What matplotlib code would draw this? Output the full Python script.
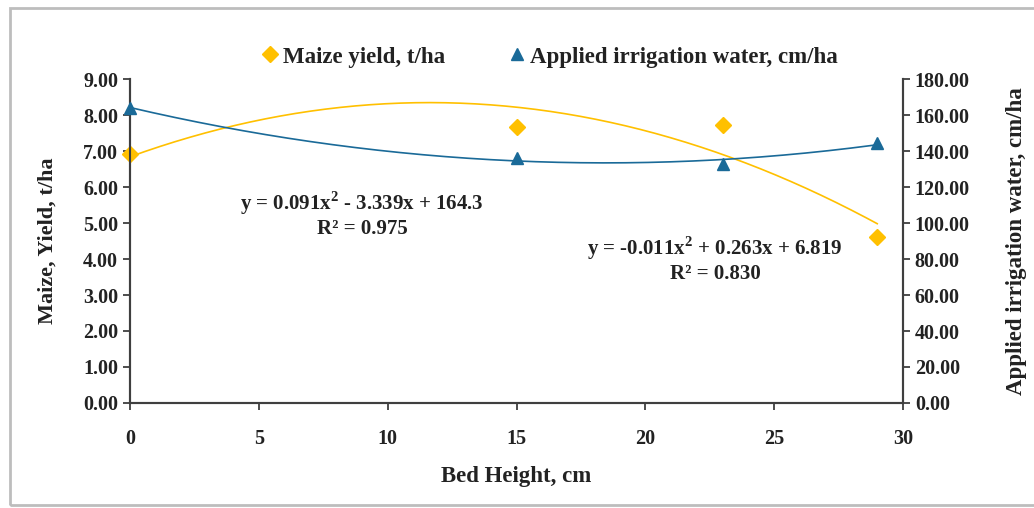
import numpy as np
import matplotlib
matplotlib.use("Agg")
import matplotlib.pyplot as plt
from matplotlib.patches import Rectangle

# data
bed_height = [0, 15, 23, 29]
maize_yield = [6.93, 7.68, 7.72, 4.61]
irrigation = [163.9, 136.1, 132.8, 144.6]

eq_irr = "y = 0.091x$^2$ - 3.339x + 164.3\nR² = 0.975"
eq_yield = "y = -0.011x$^2$ + 0.263x + 6.819\nR² = 0.830"

orange = "#FFC000"
blue = "#1A6A98"
spine_col = "#3f3f3f"
txt_col = "#222222"

plt.rcParams['font.family'] = ['Liberation Serif', 'DejaVu Serif']
plt.rcParams['font.weight'] = 'bold'
plt.rcParams['axes.labelweight'] = 'bold'
plt.rcParams['mathtext.fontset'] = 'custom'
plt.rcParams['mathtext.rm'] = 'Liberation Serif:bold'

fig = plt.figure(figsize=(10.34, 5.08), dpi=100)
ax = fig.add_axes([130 / 1034, 1 - 403 / 508, 773 / 1034, 324 / 508])
ax2 = ax.twinx()

# quadratic trend lines (excel style polynomial fits)
xs = np.linspace(0, 29, 200)
p_y = np.polyfit(bed_height, maize_yield, 2)
p_i = np.polyfit(bed_height, irrigation, 2)
ax.plot(xs, np.polyval(p_y, xs), color=orange, lw=1.2, zorder=2)
ax2.plot(xs, np.polyval(p_i, xs), color=blue, lw=1.2, zorder=2)

ax.plot(bed_height, maize_yield, linestyle='none', marker='D', ms=8.5,
        color=orange, label='Maize yield, t/ha', zorder=3, clip_on=False)
ax2.plot(bed_height, irrigation, linestyle='none', marker='^', ms=9,
         color=blue, label='Applied irrigation water, cm/ha', zorder=3,
         clip_on=False)

ax.set_xlim(0, 30)
ax.set_ylim(0, 9)
ax2.set_ylim(0, 180)
ax.set_xticks(range(0, 31, 5))
ax.set_yticks(np.arange(0, 9.01, 1))
ax2.set_yticks(np.arange(0, 180.1, 20))
ax.yaxis.set_major_formatter(matplotlib.ticker.FormatStrFormatter('%.2f'))
ax2.yaxis.set_major_formatter(matplotlib.ticker.FormatStrFormatter('%.2f'))

for a in (ax, ax2):
    a.spines['top'].set_visible(False)
    for s in ('left', 'right', 'bottom'):
        a.spines[s].set_color(spine_col)
        a.spines[s].set_linewidth(1.5)
    a.tick_params(colors=spine_col, labelcolor=txt_col, labelsize=14.5,
                  width=1.3, length=5, direction='out')
ax.tick_params(axis='x', pad=14)
ax.set_facecolor('none')

ax.set_xlabel('Bed Height, cm', fontsize=16.5, color=txt_col, labelpad=12)
ax.set_ylabel('Maize, Yield, t/ha', fontsize=16, color=txt_col, labelpad=18)
ax2.set_ylabel('Applied irrigation water, cm/ha', fontsize=16.5,
               color=txt_col, labelpad=26)

ax.text(9.0, 5.25, eq_irr, ha='center', va='center', fontsize=15,
        color=txt_col, linespacing=1.1)
ax.text(22.7, 4.0, eq_yield, ha='center', va='center', fontsize=15,
        color=txt_col, linespacing=1.1)

h1, l1 = ax.get_legend_handles_labels()
h2, l2 = ax2.get_legend_handles_labels()
fig.legend(h1 + h2, l1 + l2, loc='center', bbox_to_anchor=(550 / 1034, 1 - 57 / 508),
           ncol=2, frameon=False, fontsize=16.5, handlelength=0.7,
           handletextpad=0.2, columnspacing=2.8, labelcolor=txt_col)

fig.patches.append(Rectangle((10 / 1034, 3 / 508), 1.0, 1 - 11 / 508,
                             transform=fig.transFigure, fill=False,
                             edgecolor='#bdbdbd', lw=2))

fig.savefig('out.png', dpi=100)
